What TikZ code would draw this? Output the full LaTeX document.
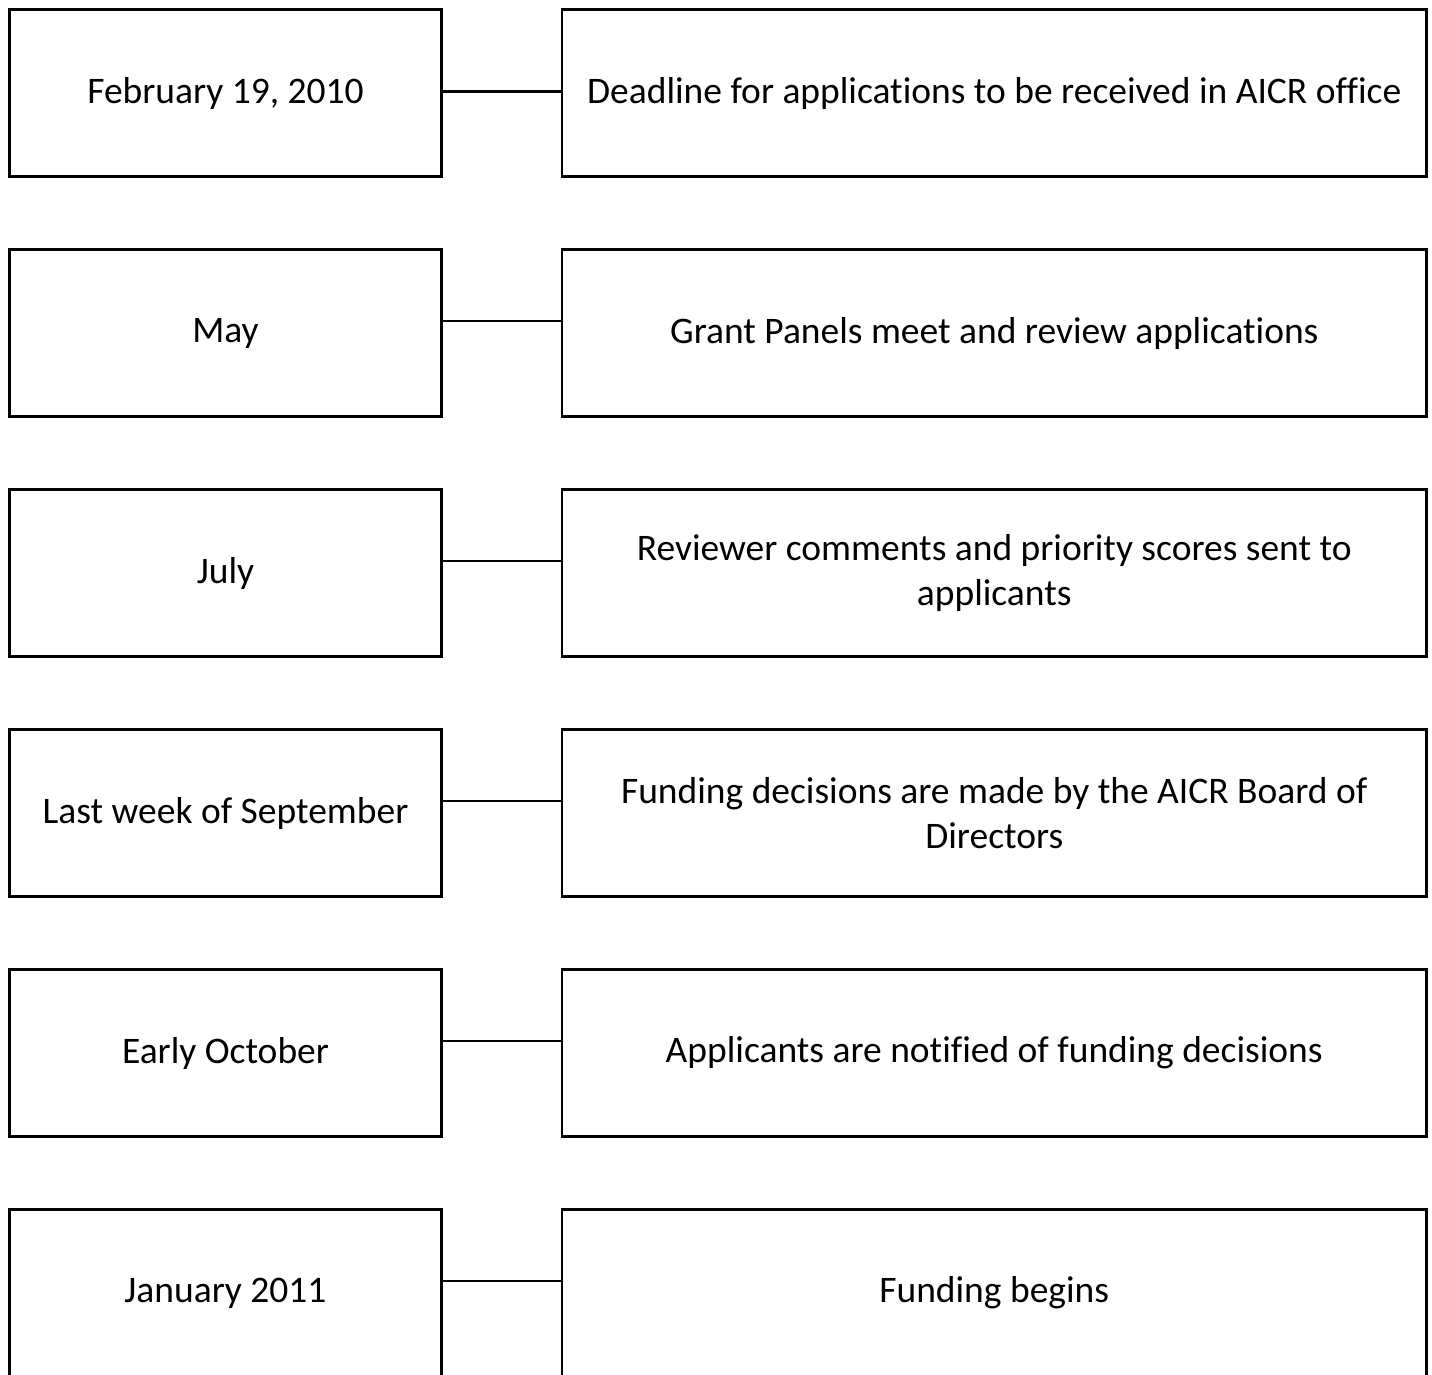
\documentclass[tikz,border=0pt]{standalone}
\usepackage{fontspec}
\setmainfont{Carlito}[Ligatures={NoCommon}]
\begin{document}
\begin{tikzpicture}[
  box/.style={draw=black, line width=2.4pt, rectangle, inner sep=0pt, minimum height=167pt,
    font=\fontsize{37.5pt}{45.5pt}\selectfont, align=center},
  datebox/.style={box, minimum width=432pt},
  eventbox/.style={box, minimum width=864.5pt},
  link/.style={draw=black, line width=2.4pt}
]
\clip (0pt,0pt) rectangle (1432pt,-1374pt);
\fill[white] (0pt,0pt) rectangle (1432pt,-1374pt);

\node[datebox]  (l1) at (225.5pt,-93pt)  {February 19, 2010};
\node[eventbox] (r1) at (994.25pt,-93pt) {Deadline for applications to be received in AICR office};
\node[datebox]  (l2) at (225.5pt,-333pt)  {May};
\node[eventbox] (r2) at (994.25pt,-333pt) {Grant Panels meet and review applications};
\node[datebox]  (l3) at (225.5pt,-573pt)  {July};
\node[eventbox] (r3) at (994.25pt,-573pt) {Reviewer comments and priority scores sent to\\applicants};
\node[datebox]  (l4) at (225.5pt,-813pt)  {Last week of September};
\node[eventbox] (r4) at (994.25pt,-813pt) {Funding decisions are made by the AICR Board of\\Directors};
\node[datebox]  (l5) at (225.5pt,-1053pt)  {Early October};
\node[eventbox] (r5) at (994.25pt,-1053pt) {Applicants are notified of funding decisions};
\node[datebox]  (l6) at (225.5pt,-1293pt)  {January 2011};
\node[eventbox] (r6) at (994.25pt,-1293pt) {Funding begins};

\draw[link] ([yshift=1.5pt]l1.east) -- ([yshift=1.5pt]r1.west);
\draw[link] ([yshift=12pt]l2.east) -- ([yshift=12pt]r2.west);
\draw[link] ([yshift=12pt]l3.east) -- ([yshift=12pt]r3.west);
\draw[link] ([yshift=12pt]l4.east) -- ([yshift=12pt]r4.west);
\draw[link] ([yshift=12pt]l5.east) -- ([yshift=12pt]r5.west);
\draw[link] ([yshift=12pt]l6.east) -- ([yshift=12pt]r6.west);
\end{tikzpicture}
\end{document}
